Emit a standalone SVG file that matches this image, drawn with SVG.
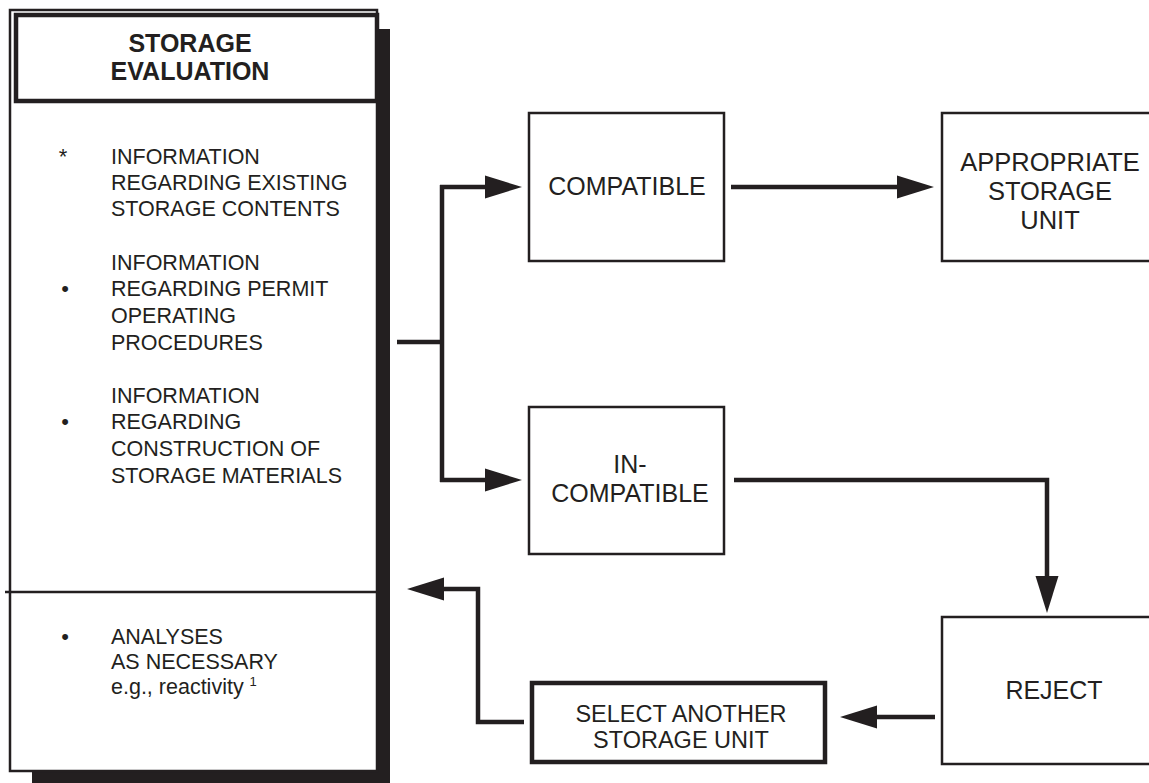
<svg xmlns="http://www.w3.org/2000/svg" width="1149" height="783" viewBox="0 0 1149 783">
<style>
text{font-family:"Liberation Sans",Arial,Helvetica,sans-serif;fill:#231f20}
.hd{font-size:25px;font-weight:bold;text-anchor:middle}
.lt{font-size:21.5px}
.bt{font-size:25px;text-anchor:middle}
.at{font-size:25.5px;text-anchor:middle}
.st{font-size:23.5px;text-anchor:middle}
.mk{text-anchor:middle;font-size:22px}
.box{fill:#fff;stroke:#231f20;stroke-width:2.5}
.thick{fill:#fff;stroke:#231f20;stroke-width:4.5}
.conn{fill:none;stroke:#231f20;stroke-width:4.5;stroke-linejoin:miter;stroke-linecap:butt}
</style>
<defs>
<marker id="ah" markerUnits="userSpaceOnUse" markerWidth="40" markerHeight="26" refX="0" refY="11.5" orient="auto" overflow="visible">
<path d="M0,0 L37,11.5 L0,23 Z" fill="#231f20"/>
</marker>
</defs>
<rect width="1149" height="783" fill="#fff"/>

<g id="storage-evaluation">
<path d="M377,29 H390 V783 H32 V771 H377 Z" fill="#231f20"/>
<rect x="10" y="10" width="367" height="761" fill="#fff" stroke="#231f20" stroke-width="2.5"/>
<rect x="16" y="15" width="361" height="86" class="thick"/>
<text class="hd" x="190" y="52">STORAGE</text>
<text class="hd" x="190" y="80">EVALUATION</text>
<line x1="5" y1="592" x2="377" y2="592" stroke="#231f20" stroke-width="2.5"/>
<text class="mk" x="63" y="164">*</text>
<text class="lt" x="111" y="164">INFORMATION</text>
<text class="lt" x="111" y="190">REGARDING EXISTING</text>
<text class="lt" x="111" y="216">STORAGE CONTENTS</text>
<text class="mk" x="65" y="296">•</text>
<text class="lt" x="111" y="270">INFORMATION</text>
<text class="lt" x="111" y="296">REGARDING PERMIT</text>
<text class="lt" x="111" y="323">OPERATING</text>
<text class="lt" x="111" y="350">PROCEDURES</text>
<text class="mk" x="65" y="429">•</text>
<text class="lt" x="111" y="403">INFORMATION</text>
<text class="lt" x="111" y="429">REGARDING</text>
<text class="lt" x="111" y="456">CONSTRUCTION OF</text>
<text class="lt" x="111" y="483">STORAGE MATERIALS</text>
<text class="mk" x="65" y="644">•</text>
<text class="lt" x="111" y="644">ANALYSES</text>
<text class="lt" x="111" y="669">AS NECESSARY</text>
<text class="lt" x="111" y="694">e.g., reactivity <tspan font-size="13" dy="-8">1</tspan></text>
</g>

<g id="compatible">
<rect x="529" y="113" width="195" height="148" class="box"/>
<text class="bt" x="627" y="195">COMPATIBLE</text>
</g>

<g id="appropriate-storage-unit">
<rect x="942" y="113" width="212" height="148" class="box"/>
<text class="at" x="1050" y="171">APPROPRIATE</text>
<text class="at" x="1050" y="200">STORAGE</text>
<text class="at" x="1050" y="229">UNIT</text>
</g>

<g id="incompatible">
<rect x="529" y="407" width="195" height="147" class="box"/>
<text class="bt" x="630" y="473">IN-</text>
<text class="bt" x="630" y="502">COMPATIBLE</text>
</g>

<g id="reject">
<rect x="942" y="617" width="212" height="147" class="box"/>
<text class="bt" x="1054" y="699">REJECT</text>
</g>

<g id="select-another">
<rect x="532" y="683" width="293" height="79" class="thick"/>
<text class="st" x="681" y="722">SELECT ANOTHER</text>
<text class="st" x="681" y="748">STORAGE UNIT</text>
</g>

<g id="connectors">
<path class="conn" d="M397,342 H442"/>
<path class="conn" d="M442,185 V482"/>
<path class="conn" d="M440,187 H485" marker-end="url(#ah)"/>
<path class="conn" d="M440,480 H485" marker-end="url(#ah)"/>
<path class="conn" d="M731,187 H897" marker-end="url(#ah)"/>
<path class="conn" d="M734,480 H1047 V576" marker-end="url(#ah)"/>
<path class="conn" d="M935,717 H877" marker-end="url(#ah)"/>
<path class="conn" d="M524,722 H478 V589 H444" marker-end="url(#ah)"/>
</g>
</svg>
